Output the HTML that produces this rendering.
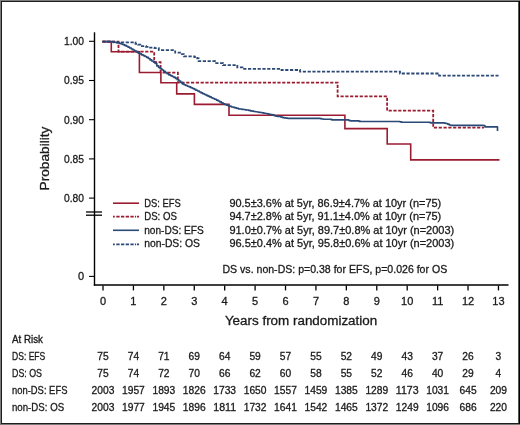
<!DOCTYPE html>
<html><head><meta charset="utf-8"><style>
html,body{margin:0;padding:0;background:#fff;}
svg{display:block;}
text{font-family:"Liberation Sans", sans-serif;fill:#1a1a1a;stroke:#1a1a1a;stroke-width:0.3px;}
svg{will-change:transform;}
</style></head><body>
<svg width="520" height="425" viewBox="0 0 520 425">
<rect x="0" y="0" width="520" height="425" fill="#7c7c7c"/>
<rect x="1" y="1" width="519" height="423" fill="#1e1e1e"/>
<rect x="519" y="1" width="1" height="423" fill="#000"/>
<rect x="2" y="2" width="517" height="421" fill="#fff"/>
<rect x="518" y="2" width="1" height="421" fill="#555"/>
<line x1="94.5" y1="32.3" x2="94.5" y2="285.7" stroke="#000" stroke-width="1.4"/>
<line x1="93.8" y1="285.0" x2="508.5" y2="285.0" stroke="#000" stroke-width="1.4"/>
<line x1="89" y1="41.30" x2="94.5" y2="41.30" stroke="#000" stroke-width="1.1"/>
<text x="84.00" y="45.10" font-size="11" text-anchor="end" textLength="20" lengthAdjust="spacingAndGlyphs">1.00</text>
<line x1="89" y1="80.50" x2="94.5" y2="80.50" stroke="#000" stroke-width="1.1"/>
<text x="84.00" y="84.30" font-size="11" text-anchor="end" textLength="20" lengthAdjust="spacingAndGlyphs">0.95</text>
<line x1="89" y1="119.70" x2="94.5" y2="119.70" stroke="#000" stroke-width="1.1"/>
<text x="84.00" y="123.50" font-size="11" text-anchor="end" textLength="20" lengthAdjust="spacingAndGlyphs">0.90</text>
<line x1="89" y1="158.90" x2="94.5" y2="158.90" stroke="#000" stroke-width="1.1"/>
<text x="84.00" y="162.70" font-size="11" text-anchor="end" textLength="20" lengthAdjust="spacingAndGlyphs">0.85</text>
<line x1="89" y1="198.10" x2="94.5" y2="198.10" stroke="#000" stroke-width="1.1"/>
<text x="84.00" y="201.90" font-size="11" text-anchor="end" textLength="20" lengthAdjust="spacingAndGlyphs">0.80</text>
<line x1="89" y1="276.4" x2="94.5" y2="276.4" stroke="#000" stroke-width="1.1"/>
<text x="84.00" y="280.10" font-size="11" text-anchor="end">0</text>
<line x1="86" y1="212" x2="102" y2="212" stroke="#000" stroke-width="1.3"/>
<line x1="86" y1="215.2" x2="102" y2="215.2" stroke="#000" stroke-width="1.3"/>
<line x1="103.00" y1="285.5" x2="103.00" y2="290.4" stroke="#000" stroke-width="1.3"/>
<text x="103.00" y="305.30" font-size="11" text-anchor="middle">0</text>
<line x1="133.42" y1="285.5" x2="133.42" y2="290.4" stroke="#000" stroke-width="1.3"/>
<text x="133.42" y="305.30" font-size="11" text-anchor="middle">1</text>
<line x1="163.84" y1="285.5" x2="163.84" y2="290.4" stroke="#000" stroke-width="1.3"/>
<text x="163.84" y="305.30" font-size="11" text-anchor="middle">2</text>
<line x1="194.26" y1="285.5" x2="194.26" y2="290.4" stroke="#000" stroke-width="1.3"/>
<text x="194.26" y="305.30" font-size="11" text-anchor="middle">3</text>
<line x1="224.68" y1="285.5" x2="224.68" y2="290.4" stroke="#000" stroke-width="1.3"/>
<text x="224.68" y="305.30" font-size="11" text-anchor="middle">4</text>
<line x1="255.10" y1="285.5" x2="255.10" y2="290.4" stroke="#000" stroke-width="1.3"/>
<text x="255.10" y="305.30" font-size="11" text-anchor="middle">5</text>
<line x1="285.52" y1="285.5" x2="285.52" y2="290.4" stroke="#000" stroke-width="1.3"/>
<text x="285.52" y="305.30" font-size="11" text-anchor="middle">6</text>
<line x1="315.94" y1="285.5" x2="315.94" y2="290.4" stroke="#000" stroke-width="1.3"/>
<text x="315.94" y="305.30" font-size="11" text-anchor="middle">7</text>
<line x1="346.36" y1="285.5" x2="346.36" y2="290.4" stroke="#000" stroke-width="1.3"/>
<text x="346.36" y="305.30" font-size="11" text-anchor="middle">8</text>
<line x1="376.78" y1="285.5" x2="376.78" y2="290.4" stroke="#000" stroke-width="1.3"/>
<text x="376.78" y="305.30" font-size="11" text-anchor="middle">9</text>
<line x1="407.20" y1="285.5" x2="407.20" y2="290.4" stroke="#000" stroke-width="1.3"/>
<text x="407.20" y="305.30" font-size="11" text-anchor="middle">10</text>
<line x1="437.62" y1="285.5" x2="437.62" y2="290.4" stroke="#000" stroke-width="1.3"/>
<text x="437.62" y="305.30" font-size="11" text-anchor="middle">11</text>
<line x1="468.04" y1="285.5" x2="468.04" y2="290.4" stroke="#000" stroke-width="1.3"/>
<text x="468.04" y="305.30" font-size="11" text-anchor="middle">12</text>
<line x1="498.46" y1="285.5" x2="498.46" y2="290.4" stroke="#000" stroke-width="1.3"/>
<text x="498.46" y="305.30" font-size="11" text-anchor="middle">13</text>
<text x="224.90" y="324.60" font-size="12.5" text-anchor="start" textLength="152.3" lengthAdjust="spacingAndGlyphs">Years from randomization</text>
<text transform="translate(48.9,158.5) rotate(-90)" x="0" y="0" font-size="13.5" text-anchor="middle" textLength="63.8" lengthAdjust="spacingAndGlyphs">Probability</text>
<path d="M102.4,41.6 L118.5,41.6 L118.5,51.6 L154.2,51.6 L154.2,62.2 L160.6,62.2 L160.6,72.6 L177.9,72.6 L177.9,82.6 L337.6,82.6 L337.6,96.3 L387.1,96.3 L387.1,110.6 L433.2,110.6 L433.2,127.7 L484.0,127.7" fill="none" stroke="#9b1b30" stroke-width="1.8" stroke-dasharray="3.2 1.6"/>
<path d="M102.4,41.6 L114.0,41.6 L114.0,42.3 L135.5,42.3 L135.5,43.8 L138.0,43.8 L138.0,44.7 L140.3,44.7 L140.3,46.2 L146.0,46.2 L146.0,46.8 L149.0,46.8 L149.0,47.6 L154.5,47.6 L154.5,48.1 L158.8,48.1 L158.8,50.2 L175.2,50.2 L175.2,52.7 L181.0,52.7 L181.0,54.1 L183.8,54.1 L183.8,56.3 L194.4,56.3 L194.4,57.0 L197.3,57.0 L197.3,58.4 L198.6,58.4 L198.6,61.2 L215.0,61.2 L215.0,63.1 L223.0,63.1 L223.0,65.1 L237.3,65.1 L237.3,67.3 L242.5,67.3 L242.5,68.8 L281.5,68.8 L281.5,70.0 L300.0,70.0 L300.0,71.6 L400.0,71.6 L400.0,73.5 L439.0,73.5 L439.0,75.7 L498.5,75.7" fill="none" stroke="#2b4976" stroke-width="1.8" stroke-dasharray="3.2 1.6"/>
<path d="M102.4,41.6 L111.3,41.6 L111.3,51.7 L139.4,51.7 L139.4,72.5 L160.9,72.5 L160.9,82.7 L176.7,82.7 L176.7,93.9 L194.4,93.9 L194.4,104.4 L229.0,104.4 L229.0,115.3 L344.9,115.3 L344.9,128.6 L387.2,128.6 L387.2,144.0 L410.7,144.0 L410.7,159.9 L499.5,159.9" fill="none" stroke="#9b1b30" stroke-width="1.6"/>
<path d="M102.4,41.6 L104.1,41.6 L105.8,41.6 L107.5,41.6 L109.2,41.6 L110.9,41.6 L110.9,41.7 L112.6,41.7 L112.6,41.9 L114.3,41.9 L114.3,42.2 L116.0,42.2 L116.0,42.6 L117.7,42.6 L117.7,42.9 L119.4,42.9 L119.4,43.3 L121.1,43.3 L121.1,44.0 L122.8,44.0 L122.8,44.6 L124.5,44.6 L124.5,45.4 L126.2,45.4 L126.2,46.2 L127.9,46.2 L127.9,47.1 L129.6,47.1 L129.6,48.0 L131.3,48.0 L131.3,49.0 L133.0,49.0 L133.0,50.0 L134.7,50.0 L134.7,51.0 L136.4,51.0 L136.4,52.0 L138.1,52.0 L138.1,53.1 L139.8,53.1 L139.8,53.9 L141.5,53.9 L141.5,54.8 L143.2,54.8 L143.2,55.6 L144.9,55.6 L144.9,56.5 L146.6,56.5 L146.6,57.3 L148.3,57.3 L148.3,58.5 L150.0,58.5 L150.0,59.9 L151.7,59.9 L151.7,61.0 L153.4,61.0 L153.4,61.9 L155.1,61.9 L155.1,63.4 L156.8,63.4 L156.8,65.9 L158.5,65.9 L158.5,67.3 L160.2,67.3 L160.2,68.7 L161.9,68.7 L161.9,70.0 L163.6,70.0 L163.6,71.3 L165.3,71.3 L165.3,72.5 L167.0,72.5 L167.0,73.7 L168.7,73.7 L168.7,74.8 L170.4,74.8 L170.4,75.6 L172.1,75.6 L172.1,76.5 L173.8,76.5 L173.8,77.3 L175.5,77.3 L175.5,78.4 L177.2,78.4 L177.2,79.7 L178.9,79.7 L178.9,81.0 L180.6,81.0 L180.6,82.4 L182.3,82.4 L182.3,83.9 L184.0,83.9 L184.0,84.7 L185.7,84.7 L185.7,85.5 L187.4,85.5 L187.4,86.2 L189.1,86.2 L189.1,86.9 L190.8,86.9 L190.8,87.7 L192.5,87.7 L192.5,88.5 L194.2,88.5 L194.2,89.3 L195.9,89.3 L195.9,90.2 L197.6,90.2 L197.6,91.0 L199.3,91.0 L199.3,92.0 L201.0,92.0 L201.0,92.9 L202.7,92.9 L202.7,93.7 L204.4,93.7 L204.4,94.5 L206.1,94.5 L206.1,95.3 L207.8,95.3 L207.8,96.1 L209.5,96.1 L209.5,96.9 L211.2,96.9 L211.2,97.7 L212.9,97.7 L212.9,98.5 L214.6,98.5 L214.6,99.2 L216.3,99.2 L216.3,100.1 L218.0,100.1 L218.0,101.0 L219.7,101.0 L219.7,101.9 L221.4,101.9 L221.4,102.9 L223.1,102.9 L223.1,103.8 L224.8,103.8 L224.8,104.5 L226.5,104.5 L226.5,105.1 L228.2,105.1 L228.2,105.8 L229.9,105.8 L229.9,106.4 L231.6,106.4 L231.6,107.0 L233.3,107.0 L233.3,107.4 L235.0,107.4 L235.0,107.9 L236.7,107.9 L236.7,108.3 L238.4,108.3 L238.4,108.8 L240.1,108.8 L240.1,109.0 L241.8,109.0 L241.8,109.3 L243.5,109.3 L243.5,109.5 L245.2,109.5 L245.2,109.8 L246.9,109.8 L246.9,110.0 L248.6,110.0 L248.6,110.4 L250.3,110.4 L250.3,110.8 L252.0,110.8 L252.0,111.1 L253.7,111.1 L253.7,111.5 L255.4,111.5 L255.4,111.7 L257.1,111.7 L257.1,112.0 L258.8,112.0 L258.8,112.3 L260.5,112.3 L260.5,112.5 L262.2,112.5 L262.2,112.8 L263.9,112.8 L263.9,113.2 L265.6,113.2 L265.6,113.5 L267.3,113.5 L267.3,113.8 L269.0,113.8 L269.0,114.2 L270.7,114.2 L270.7,114.5 L272.4,114.5 L272.4,114.9 L274.1,114.9 L274.1,115.7 L275.8,115.7 L275.8,116.2 L277.5,116.2 L277.5,116.4 L279.2,116.4 L279.2,116.5 L280.9,116.5 L280.9,117.1 L282.6,117.1 L282.6,117.6 L284.3,117.6 L284.3,117.9 L286.0,117.9 L286.0,118.1 L287.7,118.1 L287.7,118.3 L289.4,118.3 L289.4,118.4 L291.1,118.4 L292.8,118.4 L294.5,118.4 L296.2,118.4 L297.9,118.4 L299.6,118.4 L301.3,118.4 L303.0,118.4 L304.7,118.4 L306.4,118.4 L308.1,118.4 L309.8,118.4 L311.5,118.4 L313.2,118.4 L314.9,118.4 L316.6,118.4 L318.3,118.4 L320.0,118.4 L320.0,118.6 L321.7,118.6 L321.7,119.0 L323.4,119.0 L323.4,119.2 L325.1,119.2 L326.8,119.2 L328.5,119.2 L330.2,119.2 L330.2,119.3 L331.9,119.3 L331.9,119.9 L333.6,119.9 L335.3,119.9 L337.0,119.9 L338.7,119.9 L340.4,119.9 L342.1,119.9 L343.8,119.9 L345.5,119.9 L347.2,119.9 L348.9,119.9 L348.9,120.6 L350.6,120.6 L350.6,120.8 L352.3,120.8 L354.0,120.8 L355.7,120.8 L357.4,120.8 L359.1,120.8 L359.1,121.4 L360.8,121.4 L360.8,121.5 L362.5,121.5 L364.2,121.5 L365.9,121.5 L367.6,121.5 L369.3,121.5 L371.0,121.5 L372.7,121.5 L374.4,121.5 L376.1,121.5 L377.8,121.5 L379.5,121.5 L381.2,121.5 L382.9,121.5 L384.6,121.5 L386.3,121.5 L388.0,121.5 L389.7,121.5 L391.4,121.5 L393.1,121.5 L394.8,121.5 L396.5,121.5 L398.2,121.5 L399.9,121.5 L399.9,121.8 L401.6,121.8 L401.6,122.2 L403.3,122.2 L405.0,122.2 L406.7,122.2 L408.4,122.2 L410.1,122.2 L411.8,122.2 L413.5,122.2 L415.2,122.2 L416.9,122.2 L418.6,122.2 L420.3,122.2 L422.0,122.2 L423.7,122.2 L425.4,122.2 L427.1,122.2 L428.8,122.2 L428.8,122.3 L430.5,122.3 L430.5,122.8 L432.2,122.8 L433.9,122.8 L435.6,122.8 L437.3,122.8 L439.0,122.8 L440.7,122.8 L442.4,122.8 L444.1,122.8 L444.1,123.1 L445.8,123.1 L445.8,123.5 L447.5,123.5 L447.5,124.1 L449.2,124.1 L449.2,125.0 L450.9,125.0 L450.9,125.4 L452.6,125.4 L454.3,125.4 L456.0,125.4 L457.7,125.4 L459.4,125.4 L461.1,125.4 L462.8,125.4 L464.5,125.4 L466.2,125.4 L467.9,125.4 L469.6,125.4 L471.3,125.4 L473.0,125.4 L474.7,125.4 L476.4,125.4 L478.1,125.4 L479.8,125.4 L481.5,125.4 L483.2,125.4 L483.2,125.5 L484.9,125.5 L484.9,126.9 L486.6,126.9 L488.3,126.9 L490.0,126.9 L491.7,126.9 L493.4,126.9 L495.1,126.9 L496.8,126.9 L497.5,126.9 L497.5,131.1" fill="none" stroke="#2b4976" stroke-width="1.65" stroke-linejoin="round"/>
<line x1="113" y1="203.2" x2="139" y2="203.2" stroke="#9b1b30" stroke-width="1.6"/>
<line x1="113" y1="216.7" x2="139" y2="216.7" stroke="#9b1b30" stroke-width="1.8" stroke-dasharray="1.8 1.5 3.3 1.4 3.3 1.4 3.3 1.4 3.3 1.2 1.2 0.9 2.1 10"/>
<line x1="113" y1="230.3" x2="139" y2="230.3" stroke="#2b4976" stroke-width="1.6"/>
<line x1="113" y1="244.4" x2="139" y2="244.4" stroke="#2b4976" stroke-width="1.8" stroke-dasharray="1.8 1.5 3.3 1.4 3.3 1.4 3.3 1.4 3.3 1.2 1.2 0.9 2.1 10"/>
<text x="144.20" y="206.50" font-size="11" text-anchor="start" textLength="36.6" lengthAdjust="spacingAndGlyphs">DS: EFS</text>
<text x="229.40" y="206.50" font-size="11" text-anchor="start" textLength="211.8" lengthAdjust="spacingAndGlyphs">90.5±3.6% at 5yr, 86.9±4.7% at 10yr (n=75)</text>
<text x="144.20" y="220.40" font-size="11" text-anchor="start" textLength="32.7" lengthAdjust="spacingAndGlyphs">DS: OS</text>
<text x="229.40" y="220.40" font-size="11" text-anchor="start" textLength="211.8" lengthAdjust="spacingAndGlyphs">94.7±2.8% at 5yr, 91.1±4.0% at 10yr (n=75)</text>
<text x="144.20" y="233.50" font-size="11" text-anchor="start" textLength="59.6" lengthAdjust="spacingAndGlyphs">non-DS: EFS</text>
<text x="229.40" y="233.50" font-size="11" text-anchor="start" textLength="224.8" lengthAdjust="spacingAndGlyphs">91.0±0.7% at 5yr, 89.7±0.8% at 10yr (n=2003)</text>
<text x="144.20" y="247.30" font-size="11" text-anchor="start" textLength="55.8" lengthAdjust="spacingAndGlyphs">non-DS: OS</text>
<text x="229.40" y="247.30" font-size="11" text-anchor="start" textLength="224.8" lengthAdjust="spacingAndGlyphs">96.5±0.4% at 5yr, 95.8±0.6% at 10yr (n=2003)</text>
<text x="222.50" y="273.00" font-size="11" text-anchor="start" textLength="224.7" lengthAdjust="spacingAndGlyphs">DS vs. non-DS: p=0.38 for EFS, p=0.026 for OS</text>
<text x="12.10" y="342.80" font-size="10.5" text-anchor="start" textLength="30.8" lengthAdjust="spacingAndGlyphs" style="stroke-width:0.35px">At Risk</text>
<text x="12.00" y="360.00" font-size="10.5" text-anchor="start" textLength="33.3" lengthAdjust="spacingAndGlyphs">DS: EFS</text>
<text x="103.00" y="360.00" font-size="10.3" text-anchor="middle" textLength="11.4" lengthAdjust="spacingAndGlyphs">75</text>
<text x="133.42" y="360.00" font-size="10.3" text-anchor="middle" textLength="11.4" lengthAdjust="spacingAndGlyphs">74</text>
<text x="163.84" y="360.00" font-size="10.3" text-anchor="middle" textLength="11.4" lengthAdjust="spacingAndGlyphs">71</text>
<text x="194.26" y="360.00" font-size="10.3" text-anchor="middle" textLength="11.4" lengthAdjust="spacingAndGlyphs">69</text>
<text x="224.68" y="360.00" font-size="10.3" text-anchor="middle" textLength="11.4" lengthAdjust="spacingAndGlyphs">64</text>
<text x="255.10" y="360.00" font-size="10.3" text-anchor="middle" textLength="11.4" lengthAdjust="spacingAndGlyphs">59</text>
<text x="285.52" y="360.00" font-size="10.3" text-anchor="middle" textLength="11.4" lengthAdjust="spacingAndGlyphs">57</text>
<text x="315.94" y="360.00" font-size="10.3" text-anchor="middle" textLength="11.4" lengthAdjust="spacingAndGlyphs">55</text>
<text x="346.36" y="360.00" font-size="10.3" text-anchor="middle" textLength="11.4" lengthAdjust="spacingAndGlyphs">52</text>
<text x="376.78" y="360.00" font-size="10.3" text-anchor="middle" textLength="11.4" lengthAdjust="spacingAndGlyphs">49</text>
<text x="407.20" y="360.00" font-size="10.3" text-anchor="middle" textLength="11.4" lengthAdjust="spacingAndGlyphs">43</text>
<text x="437.62" y="360.00" font-size="10.3" text-anchor="middle" textLength="11.4" lengthAdjust="spacingAndGlyphs">37</text>
<text x="468.04" y="360.00" font-size="10.3" text-anchor="middle" textLength="11.4" lengthAdjust="spacingAndGlyphs">26</text>
<text x="498.46" y="360.00" font-size="10.3" text-anchor="middle" textLength="5.7" lengthAdjust="spacingAndGlyphs">3</text>
<text x="12.00" y="377.10" font-size="10.5" text-anchor="start" textLength="30.0" lengthAdjust="spacingAndGlyphs">DS: OS</text>
<text x="103.00" y="377.10" font-size="10.3" text-anchor="middle" textLength="11.4" lengthAdjust="spacingAndGlyphs">75</text>
<text x="133.42" y="377.10" font-size="10.3" text-anchor="middle" textLength="11.4" lengthAdjust="spacingAndGlyphs">74</text>
<text x="163.84" y="377.10" font-size="10.3" text-anchor="middle" textLength="11.4" lengthAdjust="spacingAndGlyphs">72</text>
<text x="194.26" y="377.10" font-size="10.3" text-anchor="middle" textLength="11.4" lengthAdjust="spacingAndGlyphs">70</text>
<text x="224.68" y="377.10" font-size="10.3" text-anchor="middle" textLength="11.4" lengthAdjust="spacingAndGlyphs">66</text>
<text x="255.10" y="377.10" font-size="10.3" text-anchor="middle" textLength="11.4" lengthAdjust="spacingAndGlyphs">62</text>
<text x="285.52" y="377.10" font-size="10.3" text-anchor="middle" textLength="11.4" lengthAdjust="spacingAndGlyphs">60</text>
<text x="315.94" y="377.10" font-size="10.3" text-anchor="middle" textLength="11.4" lengthAdjust="spacingAndGlyphs">58</text>
<text x="346.36" y="377.10" font-size="10.3" text-anchor="middle" textLength="11.4" lengthAdjust="spacingAndGlyphs">55</text>
<text x="376.78" y="377.10" font-size="10.3" text-anchor="middle" textLength="11.4" lengthAdjust="spacingAndGlyphs">52</text>
<text x="407.20" y="377.10" font-size="10.3" text-anchor="middle" textLength="11.4" lengthAdjust="spacingAndGlyphs">46</text>
<text x="437.62" y="377.10" font-size="10.3" text-anchor="middle" textLength="11.4" lengthAdjust="spacingAndGlyphs">40</text>
<text x="468.04" y="377.10" font-size="10.3" text-anchor="middle" textLength="11.4" lengthAdjust="spacingAndGlyphs">29</text>
<text x="498.46" y="377.10" font-size="10.3" text-anchor="middle" textLength="5.7" lengthAdjust="spacingAndGlyphs">4</text>
<text x="12.00" y="394.10" font-size="10.5" text-anchor="start" textLength="55.4" lengthAdjust="spacingAndGlyphs">non-DS: EFS</text>
<text x="103.00" y="394.10" font-size="10.3" text-anchor="middle" textLength="22.8" lengthAdjust="spacingAndGlyphs">2003</text>
<text x="133.42" y="394.10" font-size="10.3" text-anchor="middle" textLength="22.8" lengthAdjust="spacingAndGlyphs">1957</text>
<text x="163.84" y="394.10" font-size="10.3" text-anchor="middle" textLength="22.8" lengthAdjust="spacingAndGlyphs">1893</text>
<text x="194.26" y="394.10" font-size="10.3" text-anchor="middle" textLength="22.8" lengthAdjust="spacingAndGlyphs">1826</text>
<text x="224.68" y="394.10" font-size="10.3" text-anchor="middle" textLength="22.8" lengthAdjust="spacingAndGlyphs">1733</text>
<text x="255.10" y="394.10" font-size="10.3" text-anchor="middle" textLength="22.8" lengthAdjust="spacingAndGlyphs">1650</text>
<text x="285.52" y="394.10" font-size="10.3" text-anchor="middle" textLength="22.8" lengthAdjust="spacingAndGlyphs">1557</text>
<text x="315.94" y="394.10" font-size="10.3" text-anchor="middle" textLength="22.8" lengthAdjust="spacingAndGlyphs">1459</text>
<text x="346.36" y="394.10" font-size="10.3" text-anchor="middle" textLength="22.8" lengthAdjust="spacingAndGlyphs">1385</text>
<text x="376.78" y="394.10" font-size="10.3" text-anchor="middle" textLength="22.8" lengthAdjust="spacingAndGlyphs">1289</text>
<text x="407.20" y="394.10" font-size="10.3" text-anchor="middle" textLength="22.8" lengthAdjust="spacingAndGlyphs">1173</text>
<text x="437.62" y="394.10" font-size="10.3" text-anchor="middle" textLength="22.8" lengthAdjust="spacingAndGlyphs">1031</text>
<text x="468.04" y="394.10" font-size="10.3" text-anchor="middle" textLength="17.1" lengthAdjust="spacingAndGlyphs">645</text>
<text x="498.46" y="394.10" font-size="10.3" text-anchor="middle" textLength="17.1" lengthAdjust="spacingAndGlyphs">209</text>
<text x="12.00" y="411.00" font-size="10.5" text-anchor="start" textLength="52.1" lengthAdjust="spacingAndGlyphs">non-DS: OS</text>
<text x="103.00" y="411.00" font-size="10.3" text-anchor="middle" textLength="22.8" lengthAdjust="spacingAndGlyphs">2003</text>
<text x="133.42" y="411.00" font-size="10.3" text-anchor="middle" textLength="22.8" lengthAdjust="spacingAndGlyphs">1977</text>
<text x="163.84" y="411.00" font-size="10.3" text-anchor="middle" textLength="22.8" lengthAdjust="spacingAndGlyphs">1945</text>
<text x="194.26" y="411.00" font-size="10.3" text-anchor="middle" textLength="22.8" lengthAdjust="spacingAndGlyphs">1896</text>
<text x="224.68" y="411.00" font-size="10.3" text-anchor="middle" textLength="22.8" lengthAdjust="spacingAndGlyphs">1811</text>
<text x="255.10" y="411.00" font-size="10.3" text-anchor="middle" textLength="22.8" lengthAdjust="spacingAndGlyphs">1732</text>
<text x="285.52" y="411.00" font-size="10.3" text-anchor="middle" textLength="22.8" lengthAdjust="spacingAndGlyphs">1641</text>
<text x="315.94" y="411.00" font-size="10.3" text-anchor="middle" textLength="22.8" lengthAdjust="spacingAndGlyphs">1542</text>
<text x="346.36" y="411.00" font-size="10.3" text-anchor="middle" textLength="22.8" lengthAdjust="spacingAndGlyphs">1465</text>
<text x="376.78" y="411.00" font-size="10.3" text-anchor="middle" textLength="22.8" lengthAdjust="spacingAndGlyphs">1372</text>
<text x="407.20" y="411.00" font-size="10.3" text-anchor="middle" textLength="22.8" lengthAdjust="spacingAndGlyphs">1249</text>
<text x="437.62" y="411.00" font-size="10.3" text-anchor="middle" textLength="22.8" lengthAdjust="spacingAndGlyphs">1096</text>
<text x="468.04" y="411.00" font-size="10.3" text-anchor="middle" textLength="17.1" lengthAdjust="spacingAndGlyphs">686</text>
<text x="498.46" y="411.00" font-size="10.3" text-anchor="middle" textLength="17.1" lengthAdjust="spacingAndGlyphs">220</text>
</svg>
</body></html>
